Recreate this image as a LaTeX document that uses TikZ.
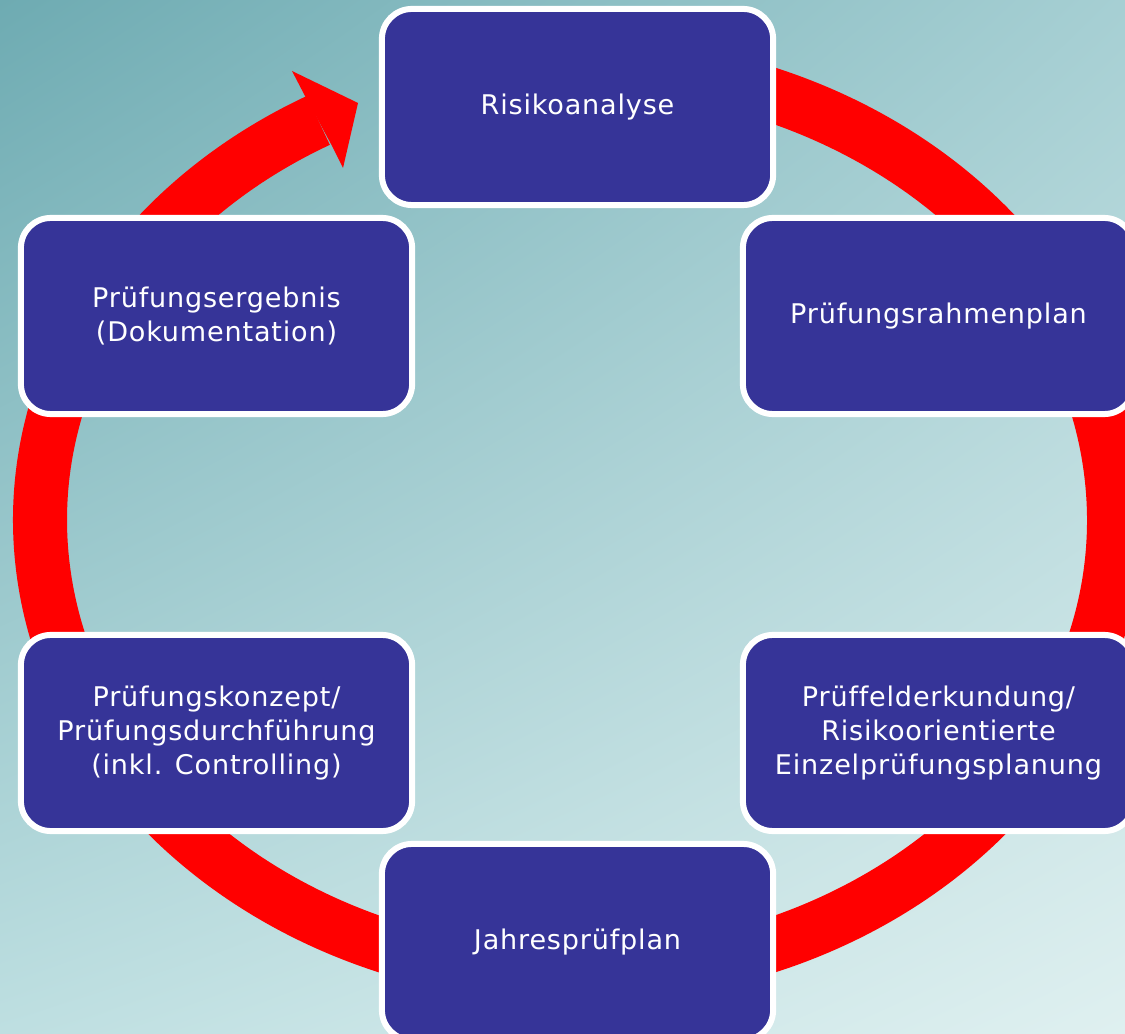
\documentclass[tikz,border=0pt]{standalone}
\usepackage{fontspec}
\newfontfamily\phasefont[LetterSpace=3, Ligatures=NoCommon]{DejaVu Sans}
\usetikzlibrary{positioning, calc, shadings}
\definecolor{phaseblue}{HTML}{363498}
\definecolor{bgtl}{HTML}{6EABB2}
\definecolor{bgtr}{HTML}{A6CFD3}
\definecolor{bgbl}{HTML}{BEDFE1}
\definecolor{bgbr}{HTML}{DFF0F0}

\begin{document}
\begin{tikzpicture}[x=0.01cm, y=0.01cm,
  phase/.style={draw=white, line width=0.06cm, fill=phaseblue, rounded corners=0.3cm,
    minimum width=3.91cm, minimum height=1.96cm, inner sep=0pt, text=white, align=center,
    font=\phasefont\fontsize{7.7}{9.8}\selectfont},
  ring/.style={draw=red, line width=0.54cm}]
\useasboundingbox (0,0) rectangle (1125,1033);
\clip (0,0) rectangle (1125,1033);

% background
\shade[upper left=bgtl, upper right=bgtr, lower left=bgbl, lower right=bgbr]
  (0,0) rectangle (1125,1033);

% ring with arrow
\coordinate (mid) at (577,513);
\draw[ring] (mid) ++(95:537 and 456)
  arc[start angle=95, end angle=-241.2, x radius=537, y radius=456];
\fill[red] (305,937) -- (292,962) -- (358,930) -- (343,865) -- (331,889) -- cycle;

% phases
\node[phase] (risk) at (577.5,926) {Risikoanalyse};
\node[phase] (frame) at (938.5,717) {Prüfungsrahmenplan};
\node[phase] (field) at (938.5,300) {Prüffelderkundung/\\Risikoorientierte\\Einzelprüfungsplanung};
\node[phase] (year) at (577.5,91) {Jahresprüfplan};
\node[phase] (concept) at (216.5,300) {Prüfungskonzept/\\Prüfungsdurchführung\\(inkl. Controlling)};
\node[phase] (result) at (216.5,717) {Prüfungsergebnis\\(Dokumentation)};
\end{tikzpicture}
\end{document}
